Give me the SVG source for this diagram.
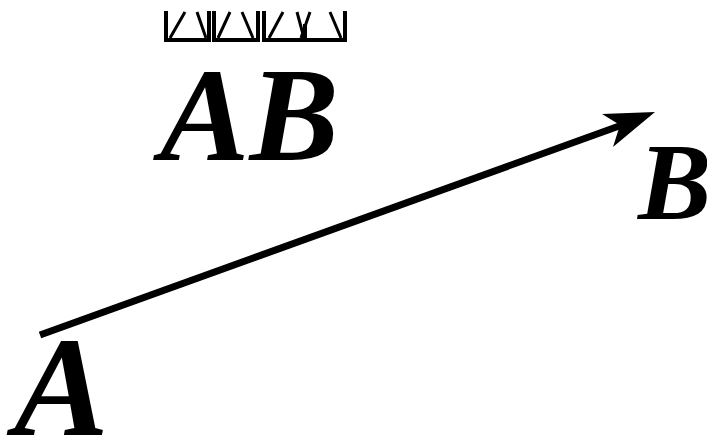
<svg xmlns="http://www.w3.org/2000/svg" width="707" height="440" viewBox="0 0 707 440">
<style>
.lbl{font-family:"Liberation Serif","Times New Roman",serif;font-weight:bold;font-style:italic;fill:#000}
.v{fill:none;stroke:#000;stroke-width:4}
.d{fill:none;stroke:#000;stroke-width:3}
</style>
<rect width="707" height="440" fill="#fff"/>
<g id="symbol">
<path class="v" d="M166,11 V40 H209 V11"/>
<path class="d" d="M185,12 L170,38 M197,12 L206,38"/>
<path class="v" d="M214,11 V40 H258 V11"/>
<path class="d" d="M230,12 L218,38 M242,12 L253,38"/>
<path class="v" d="M264,11 V40 H345 V11"/>
<path class="d" d="M283,12 L269,38 M297,12 L304,38 M310,12 L301,38 M330,12 L341,38"/>
<path class="v" d="M305,24 V38"/>
</g>
<g id="label-AB"><text class="lbl" x="160" y="160" font-size="134">AB</text></g>
<g id="connectors">
<line x1="40" y1="335" x2="622" y2="125" stroke="#000" stroke-width="7"/>
<polygon points="655,112 602,114 620,125 613,147" fill="#000"/>
</g>
<g id="node-A"><text class="lbl" x="14" y="435" font-size="142">A</text></g>
<g id="node-B"><text class="lbl" x="638" y="219" font-size="110">B</text></g>
</svg>
